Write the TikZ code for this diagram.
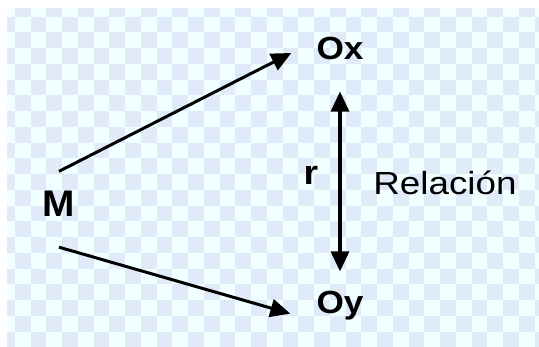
\documentclass[tikz,border=0pt]{standalone}
\usepackage{fontspec}
\setmainfont{Liberation Sans}
\usetikzlibrary{arrows.meta}
\definecolor{bglight}{HTML}{F0FFFF}
\definecolor{bgblue}{HTML}{E0EAF9}
\begin{document}
\begin{tikzpicture}[x=1pt,y=-1pt,
  conn/.style={line width=3pt,-{Triangle[length=20pt,width=18pt]}},
  both/.style={line width=3.2pt,{Triangle[length=20pt,width=18pt]}-{Triangle[length=20pt,width=18pt]}},
  lbl/.style={inner sep=0pt,anchor=base,text=black}
]
\useasboundingbox (0,0) rectangle (539,347);
\fill[white] (0,0) rectangle (539,347);
\begin{scope}
\clip (7,9) rectangle (539,347);
\fill[bglight] (7,9) rectangle (539,347);
\foreach \i in {0,...,34} {
  \foreach \j in {0,...,22} {
    \pgfmathtruncatemacro{\pp}{mod(\i+\j,2)}
    \ifnum\pp=1
      \fill[bgblue] ({-1+15.75*\i},{1+15.75*\j}) rectangle ++(15.75,15.75);
    \fi
  }
}
\end{scope}

\node[lbl] (Ox) at (340,60) {\fontsize{32pt}{32pt}\selectfont\bfseries\scalebox{1.1}[1]{Ox}};
\node[lbl] (Oy) at (340,314) {\fontsize{32pt}{32pt}\selectfont\bfseries\scalebox{1.1}[1]{Oy}};
\node[lbl] (M) at (59,217) {\fontsize{37pt}{37pt}\selectfont\bfseries\scalebox{1.05}[1]{M}};
\node[lbl] (r) at (311,185) {\fontsize{34pt}{34pt}\selectfont\bfseries\scalebox{1.1}[1]{r}};
\node[lbl] (rel) at (445,195) {\fontsize{32pt}{32pt}\selectfont\scalebox{1.15}[1]{Relación}};

\draw[conn] ([yshift=20pt]M.north) -- ([xshift=-25pt,yshift=-4pt]Ox.west);
\draw[conn] ([yshift=-30pt]M.south) -- ([xshift=-26pt,yshift=-7.5pt]Oy.west);
\draw[both] ([yshift=-31pt]Ox.south) -- ([yshift=20pt]Oy.north);
\end{tikzpicture}
\end{document}
